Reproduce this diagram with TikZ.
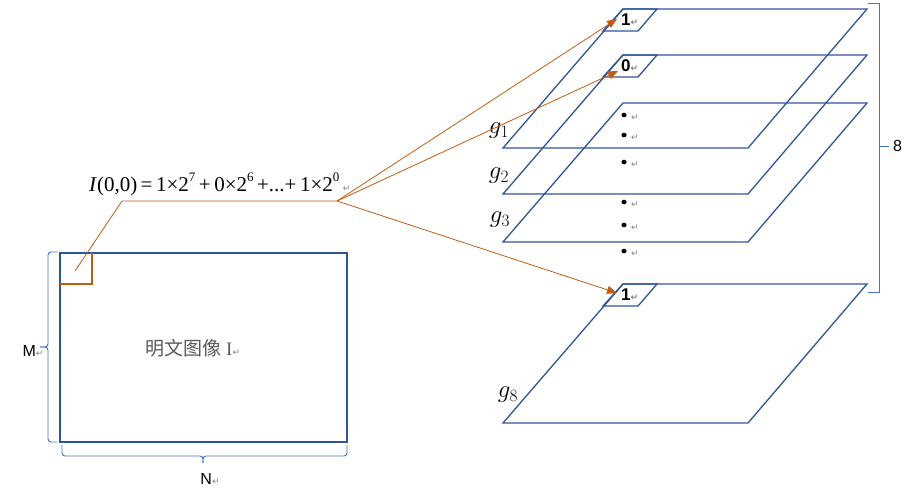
\documentclass[tikz,border=0pt]{standalone}
\usepackage{fontspec}
\setmainfont{Liberation Serif}
\newfontfamily\cjk{Noto Sans CJK SC}
\newfontfamily\arial{Liberation Sans}
\newfontfamily\dvs{DejaVu Sans}
\usetikzlibrary{arrows.meta}
\definecolor{pblue}{HTML}{2F5597}
\definecolor{lblue}{HTML}{4472C4}
\definecolor{org}{HTML}{C55A11}
\newcommand\rmk{{\dvs\fontsize{9}{10}\selectfont\color{gray}↵}}
\newcommand\sups[1]{\raisebox{0.45em}{\fontsize{13}{13}\selectfont #1}}
\tikzset{
  plane/.style={draw=pblue,line width=1.3pt,line join=miter},
  cell/.style={draw=pblue,line width=1.3pt},
  brc/.style={draw=lblue,line width=0.9pt,rounded corners=3pt},
  link/.style={draw=org,line width=0.8pt},
  linkarrow/.style={link,-{Triangle[length=10pt,width=8pt]}},
  glab/.style={font=\fontsize{23}{26}\selectfont,inner sep=0pt},
  bitlab/.style={font=\arial\bfseries\fontsize{17}{19}\selectfont,inner sep=0pt},
  sanslab/.style={font=\arial\fontsize{16}{18}\selectfont,inner sep=0pt},
}
\newcommand\bitplane[2]{%
  \draw[plane] (623,{#1}) -- (867,{#1}) -- (748,{#1+139}) -- (503,{#1+139}) -- cycle;
  \coordinate (#2) at (617,{#1+11});
}
\newcommand\bitcell[3]{%
  \draw[cell] (623,{#1}) -- (657,{#1}) -- (638,{#1+22}) -- (603,{#1+22}) -- cycle;
  \node[bitlab,anchor=west] (#2) at (621,{#1+11}) {#3\rmk};
}
\begin{document}
\begin{tikzpicture}[x=1pt,y=-1pt]
\useasboundingbox (0,0) rectangle (911,496);
% bit planes
\bitplane{9}{p1}
\bitplane{55}{p2}
\bitplane{103}{p3}
\bitplane{284}{p8}
\bitcell{9}{c1}{1}
\bitcell{55}{c2}{0}
\bitcell{284}{c8}{1}
% plane labels
\node[glab] (g1) at (499,131) {$g_1$};
\node[glab] (g2) at (499,176) {$g_2$};
\node[glab] (g3) at (500,220) {$g_3$};
\node[glab] (g8) at (508,395) {$g_8$};
% dots
\foreach \yy/\nm in {115/d1,135/d2,162/d3,202/d4,225/d5,251/d6}{
  \fill (624,\yy) ellipse (2.6pt and 2.3pt);
  \node[inner sep=0pt,anchor=west] (\nm) at (631,{\yy+3}) {\rmk};
}
% right bracket "8"
\draw[brc,rounded corners=0pt] (868,3) -- (879,3) -- (879,292) -- (868,292);
\draw[brc] (879,146) -- (889,146);
\node[sanslab,anchor=west] (eight) at (893,146) {8};
% image
\draw[draw=pblue,line width=2pt] (60,253) rectangle (347,442);
\node[inner sep=0pt] (img) at (193,348) {\cjk\fontsize{19}{21}\selectfont\color{black!65}明文图像 {\rmfamily I}\rmk};
\draw[draw=org,line width=1.6pt] (60,284) -- (92,284) -- (92,253);
% M brace
\draw[brc] (57,252) -- (48,252) -- (48,347) -- (40,347);
\draw[brc] (40,347) -- (48,347) -- (48,442) -- (57,442);
\node[sanslab] (M) at (33,351) {M\rmk};
% N brace
\draw[brc] (62,445) -- (62,456) -- (203,456) -- (203,463);
\draw[brc] (203,463) -- (203,456) -- (347,456) -- (347,445);
\node[sanslab] (N) at (210,479) {N\rmk};
% formula
\node[inner sep=0pt,anchor=base west] (formula) at (89,191) {\fontsize{21}{24}\selectfont \textit{I}(0,0)\,=\,1×2\sups{7}\,+\,0×2\sups{6}\,+...+\,1×2\sups{0}\,\rmk};
% links
\coordinate (start) at (75,271);
\coordinate (corner) at (122,201);
\coordinate (hub) at (337,201);
\draw[link] (start) -- (corner) -- (hub);
\draw[linkarrow] (hub) -- (617,19);
\draw[linkarrow] (hub) -- (618,71);
\draw[linkarrow] (hub) -- (617,293);
\end{tikzpicture}
\end{document}
